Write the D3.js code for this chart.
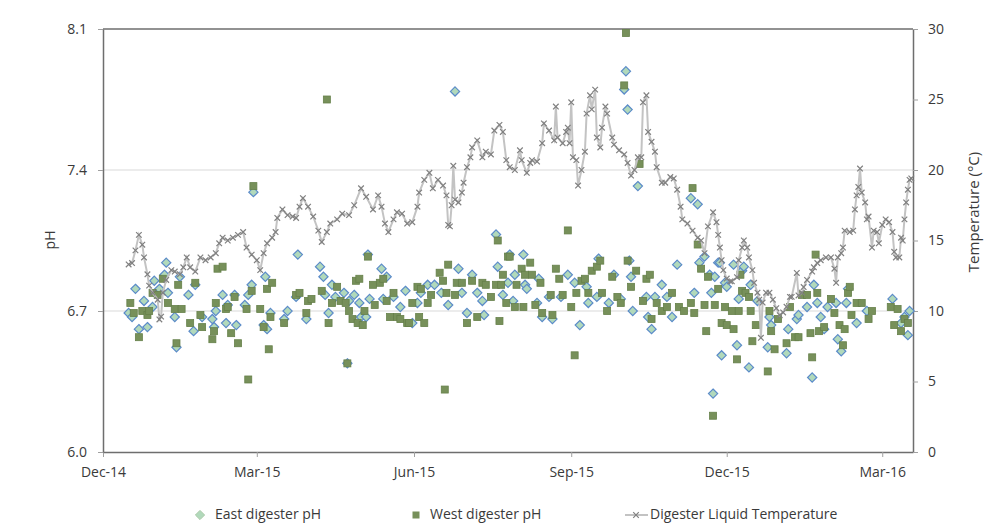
<!DOCTYPE html>
<html>
<head>
<meta charset="utf-8">
<script src="https://cdn.jsdelivr.net/npm/d3@7"></script>
<style>
  body { margin: 0; background: #fff; }
  text { font-family: "Open Sans", sans-serif; fill: #3a3a3a; }
</style>
</head>
<body>
<div id="chart"></div>
<script>
// x axis tick dates (every 3 months)
const xTickDates = ["2014-12-01", "2015-03-01", "2015-06-01", "2015-09-01", "2015-12-01", "2016-03-01"];
const phTicks = [6.0, 6.7, 7.4, 8.1];
const tempTicks = [0, 5, 10, 15, 20, 25, 30];
const seriesNames = ["East digester pH", "West digester pH", "Digester Liquid Temperature"];

// digester liquid temperature, °C
const tempData = [
  ["2014-12-16",13.3],["2014-12-18",13.4],["2014-12-20",14.3],["2014-12-22",15.4],["2014-12-24",14.7],["2014-12-25",13.8],
  ["2014-12-27",12.6],["2014-12-28",11.8],["2014-12-30",11.3],["2015-01-02",10.8],["2015-01-03",9.4],["2015-01-04",9.6],
  ["2015-01-05",11.3],["2015-01-07",12.2],["2015-01-10",12.9],["2015-01-12",12.8],["2015-01-15",12.6],["2015-01-17",13.1],
  ["2015-01-19",13.8],["2015-01-21",13.1],["2015-01-24",12.8],["2015-01-27",13.8],["2015-01-30",13.6],["2015-02-02",13.8],
  ["2015-02-05",14.1],["2015-02-07",14.8],["2015-02-09",15.2],["2015-02-12",15.0],["2015-02-15",15.2],["2015-02-18",15.4],
  ["2015-02-21",15.6],["2015-02-23",14.5],["2015-02-26",14.0],["2015-03-01",13.6],["2015-03-03",12.9],["2015-03-05",14.1],
  ["2015-03-07",14.8],["2015-03-10",15.2],["2015-03-12",15.6],["2015-03-13",16.6],["2015-03-16",17.2],["2015-03-19",16.8],
  ["2015-03-22",16.7],["2015-03-24",16.6],["2015-03-26",17.4],["2015-03-28",18.0],["2015-03-31",17.4],["2015-04-03",16.7],
  ["2015-04-06",15.7],["2015-04-08",14.9],["2015-04-11",15.6],["2015-04-13",16.2],["2015-04-17",16.5],["2015-04-20",16.9],
  ["2015-04-24",16.8],["2015-04-27",17.5],["2015-05-01",18.7],["2015-05-04",18.1],["2015-05-08",17.2],["2015-05-11",18.2],
  ["2015-05-13",17.4],["2015-05-15",16.2],["2015-05-17",15.6],["2015-05-20",16.5],["2015-05-22",17.0],["2015-05-25",16.9],
  ["2015-05-28",16.2],["2015-05-31",16.3],["2015-06-03",17.4],["2015-06-04",18.4],["2015-06-07",19.3],["2015-06-10",19.8],
  ["2015-06-12",18.7],["2015-06-15",19.3],["2015-06-18",18.9],["2015-06-20",18.2],["2015-06-21",16.1],["2015-06-22",16.0],
  ["2015-06-23",17.5],["2015-06-24",20.3],["2015-06-25",17.9],["2015-06-27",17.7],["2015-06-29",18.4],["2015-06-30",19.1],
  ["2015-07-02",20.2],["2015-07-04",20.9],["2015-07-05",21.6],["2015-07-08",22.1],["2015-07-11",20.9],["2015-07-13",21.3],
  ["2015-07-16",21.1],["2015-07-18",22.8],["2015-07-21",23.2],["2015-07-23",22.7],["2015-07-25",20.7],["2015-07-27",20.2],
  ["2015-07-30",20.0],["2015-08-02",21.4],["2015-08-03",20.7],["2015-08-06",19.8],["2015-08-08",20.5],["2015-08-09",20.7],
  ["2015-08-12",20.6],["2015-08-15",21.9],["2015-08-16",23.3],["2015-08-19",22.8],["2015-08-22",22.1],["2015-08-23",24.5],
  ["2015-08-24",22.3],["2015-08-27",21.9],["2015-08-29",22.7],["2015-08-30",23.0],["2015-08-31",21.9],["2015-09-01",24.8],
  ["2015-09-02",20.9],["2015-09-04",20.7],["2015-09-05",18.9],["2015-09-07",20.0],["2015-09-09",21.3],["2015-09-10",24.0],
  ["2015-09-12",25.3],["2015-09-13",24.3],["2015-09-15",25.7],["2015-09-16",22.3],["2015-09-18",21.6],["2015-09-19",23.0],
  ["2015-09-21",24.5],["2015-09-22",24.0],["2015-09-25",22.3],["2015-09-26",21.8],["2015-09-29",21.4],["2015-10-02",21.1],
  ["2015-10-04",20.5],["2015-10-06",19.6],["2015-10-08",20.0],["2015-10-10",20.9],["2015-10-12",20.9],["2015-10-13",24.8],
  ["2015-10-15",25.3],["2015-10-16",22.7],["2015-10-18",22.0],["2015-10-20",21.3],["2015-10-21",20.2],["2015-10-24",19.1],
  ["2015-10-26",19.1],["2015-10-29",19.5],["2015-10-31",19.4],["2015-11-02",18.6],["2015-11-04",17.4],["2015-11-05",16.5],
  ["2015-11-08",16.2],["2015-11-11",15.7],["2015-11-14",15.2],["2015-11-16",15.0],["2015-11-18",14.1],["2015-11-20",16.0],
  ["2015-11-23",17.0],["2015-11-25",16.3],["2015-11-26",15.4],["2015-11-27",14.5],["2015-11-28",13.6],["2015-11-29",12.9],
  ["2015-12-01",12.3],["2015-12-03",12.1],["2015-12-04",12.1],["2015-12-07",12.4],["2015-12-08",13.6],["2015-12-10",14.5],
  ["2015-12-11",15.0],["2015-12-13",14.5],["2015-12-14",13.8],["2015-12-16",12.9],["2015-12-17",12.0],["2015-12-19",11.3],
  ["2015-12-20",10.8],["2015-12-21",8.1],["2015-12-22",10.6],["2015-12-24",11.3],["2015-12-26",11.3],["2015-12-28",10.8],
  ["2015-12-30",10.2],["2016-01-01",9.7],["2016-01-03",9.9],["2016-01-05",10.3],["2016-01-07",11.0],["2016-01-08",11.0],
  ["2016-01-11",12.7],["2016-01-12",11.1],["2016-01-14",11.3],["2016-01-15",11.7],["2016-01-17",12.2],["2016-01-20",12.8],
  ["2016-01-21",13.1],["2016-01-23",13.4],["2016-01-25",13.6],["2016-01-28",13.8],["2016-01-31",13.8],["2016-02-02",13.0],
  ["2016-02-03",12.0],["2016-02-04",13.8],["2016-02-06",14.1],["2016-02-07",14.5],["2016-02-08",15.7],["2016-02-11",15.6],
  ["2016-02-13",15.7],["2016-02-14",17.2],["2016-02-15",18.2],["2016-02-16",18.8],["2016-02-17",20.1],["2016-02-18",18.4],
  ["2016-02-20",17.7],["2016-02-21",16.5],["2016-02-22",16.7],["2016-02-24",14.5],["2016-02-25",15.7],["2016-02-27",15.6],
  ["2016-02-28",14.8],["2016-03-01",16.1],["2016-03-03",16.5],["2016-03-05",16.3],["2016-03-07",15.6],["2016-03-08",14.2],
  ["2016-03-09",13.8],["2016-03-11",13.8],["2016-03-12",15.2],["2016-03-13",15.0],["2016-03-14",16.5],["2016-03-15",17.7],
  ["2016-03-16",18.6],["2016-03-17",19.3],["2016-03-18",19.4]
];

// east digester pH
const eastData = [
  ["2014-12-16",6.69],["2014-12-18",6.67],["2014-12-20",6.81],["2014-12-22",6.61],["2014-12-25",6.75],["2014-12-27",6.62],
  ["2014-12-30",6.72],["2014-12-31",6.85],["2015-01-03",6.81],["2015-01-06",6.88],["2015-01-07",6.94],["2015-01-08",6.79],
  ["2015-01-12",6.67],["2015-01-13",6.52],["2015-01-15",6.87],["2015-01-20",6.78],["2015-01-23",6.60],["2015-01-24",6.83],
  ["2015-01-28",6.67],["2015-02-03",6.66],["2015-02-04",6.62],["2015-02-05",6.70],["2015-02-09",6.78],["2015-02-11",6.64],
  ["2015-02-12",6.73],["2015-02-16",6.78],["2015-02-17",6.63],["2015-02-22",6.73],["2015-02-24",6.78],["2015-02-26",6.83],
  ["2015-02-27",7.29],["2015-03-05",6.63],["2015-03-06",6.87],["2015-03-07",6.61],["2015-03-09",6.69],["2015-03-17",6.66],
  ["2015-03-19",6.70],["2015-03-24",6.77],["2015-03-25",6.98],["2015-03-30",6.66],["2015-04-07",6.92],["2015-04-09",6.87],
  ["2015-04-10",6.78],["2015-04-12",6.69],["2015-04-14",6.83],["2015-04-16",6.77],["2015-04-21",6.79],["2015-04-23",6.44],
  ["2015-04-24",6.75],["2015-04-27",6.78],["2015-04-30",6.74],["2015-05-01",6.67],["2015-05-04",6.67],["2015-05-05",6.98],
  ["2015-05-06",6.76],["2015-05-13",6.91],["2015-05-14",6.76],["2015-05-16",6.87],["2015-05-20",6.77],["2015-05-24",6.72],
  ["2015-05-27",6.80],["2015-05-31",6.64],["2015-06-03",6.74],["2015-06-05",6.79],["2015-06-09",6.83],["2015-06-13",6.83],
  ["2015-06-17",6.79],["2015-06-21",6.73],["2015-06-25",7.79],["2015-06-27",6.91],["2015-06-29",6.79],["2015-07-02",6.69],
  ["2015-07-05",6.88],["2015-07-08",6.79],["2015-07-11",6.75],["2015-07-12",6.68],["2015-07-19",7.08],["2015-07-20",6.92],
  ["2015-07-23",6.78],["2015-07-26",6.84],["2015-07-27",6.98],["2015-07-29",6.75],["2015-07-30",6.88],["2015-08-04",6.98],
  ["2015-08-05",6.83],["2015-08-06",6.81],["2015-08-12",6.74],["2015-08-13",6.86],["2015-08-15",6.67],["2015-08-19",6.77],
  ["2015-08-21",6.66],["2015-08-26",6.77],["2015-08-30",6.88],["2015-09-03",6.84],["2015-09-06",6.63],["2015-09-10",6.82],
  ["2015-09-11",6.74],["2015-09-16",6.77],["2015-09-17",6.96],["2015-09-23",6.74],["2015-09-26",6.88],["2015-09-30",6.76],
  ["2015-10-02",7.80],["2015-10-03",7.89],["2015-10-04",7.70],["2015-10-05",6.95],["2015-10-06",6.87],["2015-10-07",6.70],
  ["2015-10-10",7.32],["2015-10-15",6.77],["2015-10-16",6.67],["2015-10-18",6.61],["2015-10-20",6.77],["2015-10-24",6.83],
  ["2015-10-27",6.77],["2015-10-30",6.67],["2015-11-02",6.93],["2015-11-10",7.26],["2015-11-12",6.79],["2015-11-14",7.23],
  ["2015-11-15",6.94],["2015-11-18",6.97],["2015-11-21",6.88],["2015-11-22",6.79],["2015-11-23",6.29],["2015-11-24",6.87],
  ["2015-11-26",6.94],["2015-11-27",6.94],["2015-11-28",6.48],["2015-11-30",6.84],["2015-12-01",6.82],["2015-12-05",6.93],
  ["2015-12-07",6.53],["2015-12-08",6.76],["2015-12-10",6.90],["2015-12-11",6.92],["2015-12-14",6.42],["2015-12-15",6.83],
  ["2015-12-19",6.75],["2015-12-25",6.52],["2015-12-26",6.67],["2015-12-27",6.63],["2016-01-05",6.49],["2016-01-06",6.61],
  ["2016-01-11",6.66],["2016-01-12",6.68],["2016-01-17",6.72],["2016-01-20",6.37],["2016-01-21",6.83],["2016-01-23",6.74],
  ["2016-01-25",6.67],["2016-01-27",6.61],["2016-01-29",6.72],["2016-02-03",6.74],["2016-02-04",6.56],["2016-02-06",6.50],
  ["2016-02-09",6.74],["2016-02-10",6.81],["2016-02-15",6.64],["2016-02-21",6.70],["2016-03-07",6.76],["2016-03-12",6.64],
  ["2016-03-14",6.67],["2016-03-16",6.58],["2016-03-17",6.70]
];

// west digester pH
const westData = [
  ["2014-12-17",6.74],["2014-12-19",6.69],["2014-12-22",6.57],["2014-12-24",6.70],["2014-12-27",6.68],["2014-12-28",6.70],
  ["2014-12-30",6.79],["2015-01-02",6.78],["2015-01-05",6.86],["2015-01-08",6.74],["2015-01-12",6.71],["2015-01-13",6.54],
  ["2015-01-14",6.83],["2015-01-16",6.71],["2015-01-21",6.64],["2015-01-24",6.84],["2015-01-27",6.68],["2015-01-28",6.62],
  ["2015-02-03",6.56],["2015-02-04",6.60],["2015-02-05",6.74],["2015-02-06",6.91],["2015-02-09",6.92],["2015-02-11",6.71],
  ["2015-02-12",6.72],["2015-02-14",6.59],["2015-02-16",6.77],["2015-02-18",6.54],["2015-02-23",6.71],["2015-02-24",6.36],
  ["2015-02-26",6.80],["2015-02-27",7.32],["2015-03-03",6.71],["2015-03-05",6.62],["2015-03-07",6.81],["2015-03-08",6.51],
  ["2015-03-09",6.67],["2015-03-10",6.84],["2015-03-17",6.64],["2015-03-24",6.78],["2015-03-26",6.79],["2015-03-30",6.69],
  ["2015-03-31",6.75],["2015-04-02",6.76],["2015-04-08",6.80],["2015-04-11",7.75],["2015-04-12",6.64],["2015-04-14",6.74],
  ["2015-04-17",6.82],["2015-04-19",6.75],["2015-04-22",6.74],["2015-04-23",6.44],["2015-04-24",6.70],["2015-04-26",6.66],
  ["2015-04-28",6.85],["2015-04-29",6.64],["2015-04-30",6.86],["2015-05-02",6.63],["2015-05-03",6.70],["2015-05-05",6.97],
  ["2015-05-08",6.83],["2015-05-09",6.73],["2015-05-12",6.84],["2015-05-14",6.86],["2015-05-16",6.75],["2015-05-18",6.67],
  ["2015-05-20",6.79],["2015-05-22",6.67],["2015-05-24",6.66],["2015-05-28",6.64],["2015-05-29",6.64],["2015-05-31",6.74],
  ["2015-06-03",6.82],["2015-06-04",6.67],["2015-06-05",6.81],["2015-06-07",6.64],["2015-06-09",6.74],["2015-06-11",6.78],
  ["2015-06-16",6.89],["2015-06-18",6.85],["2015-06-19",6.31],["2015-06-20",6.79],["2015-06-21",6.93],["2015-06-25",6.78],
  ["2015-06-26",6.84],["2015-06-29",6.84],["2015-07-02",6.64],["2015-07-05",6.85],["2015-07-08",6.67],["2015-07-11",6.84],
  ["2015-07-13",6.83],["2015-07-16",6.77],["2015-07-19",6.83],["2015-07-20",7.05],["2015-07-21",6.65],["2015-07-22",6.83],
  ["2015-07-23",6.88],["2015-07-25",6.74],["2015-07-26",6.97],["2015-07-27",6.97],["2015-07-30",6.72],["2015-07-31",6.83],
  ["2015-08-03",6.91],["2015-08-04",6.72],["2015-08-05",6.88],["2015-08-08",6.94],["2015-08-09",6.88],["2015-08-11",6.73],
  ["2015-08-14",6.84],["2015-08-15",6.69],["2015-08-20",6.78],["2015-08-21",6.68],["2015-08-23",6.91],["2015-08-25",6.86],
  ["2015-08-27",6.78],["2015-08-30",7.10],["2015-09-01",6.72],["2015-09-03",6.48],["2015-09-04",6.79],["2015-09-07",6.85],
  ["2015-09-09",6.86],["2015-09-11",6.79],["2015-09-13",6.90],["2015-09-16",6.92],["2015-09-18",6.95],["2015-09-19",6.79],
  ["2015-09-22",6.70],["2015-09-25",6.87],["2015-09-28",6.77],["2015-09-30",6.74],["2015-10-02",7.82],["2015-10-03",8.08],
  ["2015-10-04",6.95],["2015-10-06",6.82],["2015-10-09",6.90],["2015-10-11",7.43],["2015-10-13",6.75],["2015-10-15",6.86],
  ["2015-10-17",6.88],["2015-10-18",6.66],["2015-10-21",6.74],["2015-10-24",6.70],["2015-10-27",6.72],["2015-10-30",6.79],
  ["2015-11-03",6.72],["2015-11-06",6.70],["2015-11-10",6.74],["2015-11-11",7.31],["2015-11-12",6.69],["2015-11-14",7.03],
  ["2015-11-16",6.91],["2015-11-18",6.73],["2015-11-19",6.60],["2015-11-20",6.87],["2015-11-23",6.18],["2015-11-24",6.73],
  ["2015-11-26",6.81],["2015-11-28",6.64],["2015-11-30",6.72],["2015-12-01",6.63],["2015-12-04",6.70],["2015-12-05",6.61],
  ["2015-12-07",6.46],["2015-12-08",6.70],["2015-12-09",6.88],["2015-12-10",6.80],["2015-12-12",6.79],["2015-12-14",6.77],
  ["2015-12-15",6.70],["2015-12-16",6.55],["2015-12-18",6.63],["2015-12-25",6.40],["2015-12-26",6.70],["2015-12-27",6.60],
  ["2015-12-29",6.51],["2015-12-31",6.66],["2016-01-05",6.54],["2016-01-07",6.72],["2016-01-10",6.57],["2016-01-12",6.57],
  ["2016-01-14",6.78],["2016-01-17",6.78],["2016-01-19",6.59],["2016-01-20",6.47],["2016-01-22",6.98],["2016-01-23",6.79],
  ["2016-01-24",6.60],["2016-01-27",6.62],["2016-01-31",6.76],["2016-02-02",6.69],["2016-02-05",6.63],["2016-02-07",6.53],
  ["2016-02-08",6.61],["2016-02-10",6.79],["2016-02-11",6.82],["2016-02-12",6.68],["2016-02-15",6.74],["2016-02-18",6.74],
  ["2016-02-22",6.66],["2016-02-24",6.70],["2016-03-06",6.72],["2016-03-08",6.63],["2016-03-10",6.71],["2016-03-12",6.60],
  ["2016-03-14",6.66],["2016-03-16",6.64]
];

const width = 987;
const height = 523;
const margin = { top: 29, right: 74, bottom: 71, left: 103 };
const parseDate = d3.timeParse("%Y-%m-%d");

const svg = d3
  .select("#chart")
  .append("svg")
  .attr("width", width)
  .attr("height", height);

svg.append("rect").attr("width", width).attr("height", height).attr("fill", "#fff");

const xScale = d3
  .scaleTime()
  .domain([parseDate("2014-12-01"), parseDate("2016-03-19")])
  .range([margin.left, width - margin.right]);

const yScale = d3
  .scaleLinear()
  .domain([6.0, 8.1])
  .range([height - margin.bottom, margin.top]);

const tScale = d3
  .scaleLinear()
  .domain([0, 30])
  .range([height - margin.bottom, margin.top]);

// gridlines
svg
  .append("g")
  .selectAll("line")
  .data(phTicks.slice(1, 3))
  .enter()
  .append("line")
  .attr("x1", margin.left)
  .attr("x2", width - margin.right)
  .attr("y1", (d) => yScale(d))
  .attr("y2", (d) => yScale(d))
  .attr("stroke", "#d9d9d9")
  .attr("stroke-width", 1);

// axes
const axisColor = "#6e6e6e";
const xAxis = svg
  .append("g")
  .attr("transform", `translate(0,${height - margin.bottom})`)
  .call(
    d3
      .axisBottom(xScale)
      .tickValues(xTickDates.map(parseDate))
      .tickFormat(d3.timeFormat("%b-%y"))
      .tickSizeInner(5)
      .tickSizeOuter(0)
      .tickPadding(10)
  );

const yAxis = svg
  .append("g")
  .attr("transform", `translate(${margin.left},0)`)
  .call(d3.axisLeft(yScale).tickValues(phTicks).tickFormat(d3.format(".1f")).tickSizeInner(5).tickSizeOuter(0).tickPadding(11));

const tAxis = svg
  .append("g")
  .attr("transform", `translate(${width - margin.right},0)`)
  .call(d3.axisRight(tScale).tickValues(tempTicks).tickSizeInner(5).tickSizeOuter(0).tickPadding(10));

[xAxis, yAxis, tAxis].forEach((g) => {
  g.select(".domain").attr("stroke", axisColor).attr("stroke-width", 1.5);
  g.selectAll(".tick line").attr("stroke", "#a0a0a0");
  g.selectAll(".tick text").style("font-family", "Open Sans").style("font-size", "14px").attr("fill", "#333");
});

// top border of plot area
svg
  .append("line")
  .attr("x1", margin.left)
  .attr("x2", width - margin.right)
  .attr("y1", margin.top)
  .attr("y2", margin.top)
  .attr("stroke", axisColor)
  .attr("stroke-width", 1.5);

// axis titles
svg
  .append("text")
  .attr("transform", `translate(51, 240) rotate(-90)`)
  .attr("text-anchor", "middle")
  .attr("dominant-baseline", "middle")
  .style("font-size", "14px")
  .text("pH");

svg
  .append("text")
  .attr("transform", `translate(975, 212) rotate(-90)`)
  .attr("text-anchor", "middle")
  .attr("dominant-baseline", "middle")
  .style("font-size", "15px")
  .text("Temperature (°C)");

const diamond = (s) => `M0,${-s}L${s},0L0,${s}L${-s},0Z`;
const cross = (s) => `M${-s},${-s}L${s},${s}M${-s},${s}L${s},${-s}`;

// east digester pH
svg
  .append("g")
  .selectAll("path")
  .data(eastData)
  .enter()
  .append("path")
  .attr("transform", (d) => `translate(${xScale(parseDate(d[0]))},${yScale(d[1])})`)
  .attr("d", diamond(4.6))
  .attr("fill", "#b1d9bb")
  .attr("stroke", "#5b8bc9")
  .attr("stroke-width", 1.2);

// west digester pH
svg
  .append("g")
  .selectAll("rect")
  .data(westData)
  .enter()
  .append("rect")
  .attr("x", (d) => xScale(parseDate(d[0])) - 3.5)
  .attr("y", (d) => yScale(d[1]) - 3.5)
  .attr("width", 7)
  .attr("height", 7)
  .attr("fill", "#77905a")
  .attr("stroke", "#66804a")
  .attr("stroke-width", 0.8);

// temperature line (secondary axis)
const line = d3
  .line()
  .x((d) => xScale(parseDate(d[0])))
  .y((d) => tScale(d[1]));

svg
  .append("path")
  .datum(tempData)
  .attr("d", line)
  .attr("fill", "none")
  .attr("stroke", "#c3c3c3")
  .attr("stroke-width", 2);

svg
  .append("g")
  .selectAll("path")
  .data(tempData)
  .enter()
  .append("path")
  .attr("transform", (d) => `translate(${xScale(parseDate(d[0]))},${tScale(d[1])})`)
  .attr("d", cross(2.8))
  .attr("stroke", "#808080")
  .attr("stroke-width", 1.2)
  .attr("fill", "none");

// legend
const legendY = 515;
const legend = svg.append("g");

legend
  .append("path")
  .attr("transform", `translate(200,${legendY})`)
  .attr("d", diamond(4.6))
  .attr("fill", "#b1d9bb")
  .attr("stroke", "#a9c9a6");

legend
  .append("rect")
  .attr("x", 416 - 3.5)
  .attr("y", legendY - 3.5)
  .attr("width", 7)
  .attr("height", 7)
  .attr("fill", "#77905a");

legend
  .append("line")
  .attr("x1", 625)
  .attr("x2", 648)
  .attr("y1", legendY)
  .attr("y2", legendY)
  .attr("stroke", "#c3c3c3")
  .attr("stroke-width", 2);

legend
  .append("path")
  .attr("transform", `translate(636,${legendY})`)
  .attr("d", cross(2.8))
  .attr("stroke", "#808080")
  .attr("stroke-width", 1.2);

legend
  .selectAll("text")
  .data(seriesNames)
  .enter()
  .append("text")
  .attr("x", (d, i) => [215, 430, 650][i])
  .attr("y", legendY)
  .attr("dominant-baseline", "middle")
  .style("font-size", "14px")
  .text((d) => d);
</script>
</body>
</html>
